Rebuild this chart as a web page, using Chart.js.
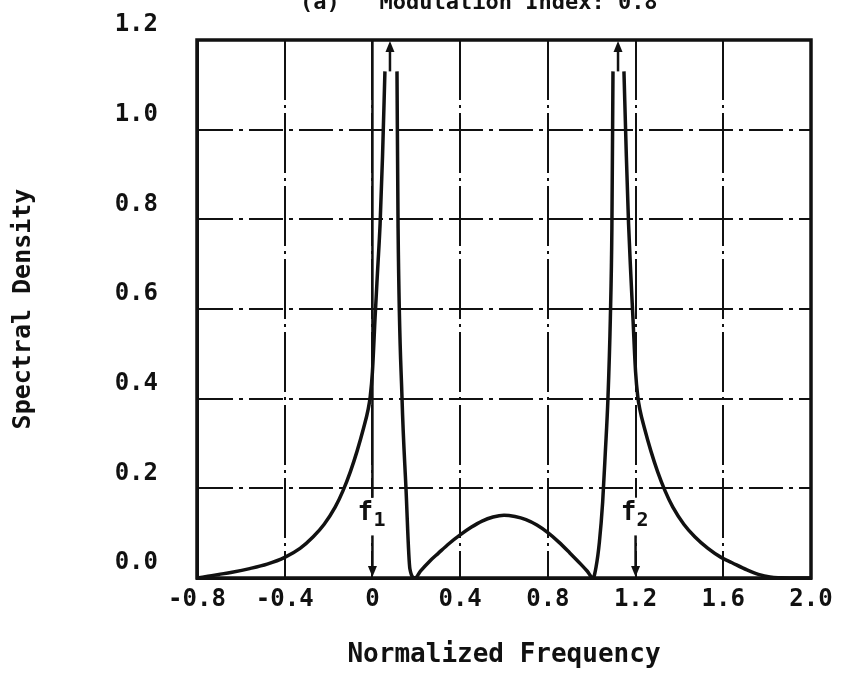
<!DOCTYPE html>
<html>
<head>
<meta charset="utf-8">
<script src="https://cdn.jsdelivr.net/npm/chart.js@4/dist/chart.umd.min.js"></script>
<style>
  html, body { margin: 0; padding: 0; background: #fff; }
  #wrap { width: 845px; height: 679px; }
</style>
</head>
<body>
<div id="wrap"><canvas id="c" width="845" height="679"></canvas></div>
<script>
// Spectral density versus normalized frequency (null = open top of a spectral-line peak)
const freq = [
  -0.80, -0.75, -0.70, -0.64, -0.56, -0.48, -0.40, -0.33, -0.27, -0.22, -0.17, -0.134, -0.10, -0.07, -0.04, -0.02, -0.01,
  0.0, 0.012, 0.024, 0.035, 0.046, 0.057,
  0.085,
  0.112, 0.117, 0.135, 0.153, 0.171, 0.194,
  0.22, 0.26, 0.30, 0.35, 0.40, 0.45, 0.50, 0.55, 0.60, 0.65, 0.70, 0.75, 0.80, 0.85, 0.90, 0.95, 0.98, 1.006,
  1.02, 1.035, 1.05, 1.062, 1.074, 1.085, 1.092, 1.097,
  1.12,
  1.147, 1.158, 1.168, 1.178, 1.188, 1.20, 1.21, 1.22, 1.24, 1.27, 1.30, 1.334, 1.37, 1.42, 1.47, 1.53, 1.59, 1.64, 1.708, 1.76, 1.813, 1.90, 2.00
];
const density = [
  0.000, 0.004, 0.008, 0.013, 0.021, 0.031, 0.046, 0.066, 0.092, 0.120, 0.158, 0.195, 0.238, 0.283, 0.335, 0.375, 0.405,
  0.460, 0.580, 0.690, 0.790, 0.940, 1.130,
  null,
  1.130, 0.780, 0.400, 0.200, 0.020, 0.000,
  0.016, 0.037, 0.055, 0.077, 0.096, 0.113, 0.127, 0.136, 0.140, 0.137, 0.130, 0.118, 0.101, 0.080, 0.056, 0.031, 0.015, 0.000,
  0.025, 0.080, 0.170, 0.280, 0.400, 0.580, 0.780, 1.130,
  null,
  1.130, 0.940, 0.790, 0.680, 0.580, 0.460, 0.405, 0.375, 0.335, 0.283, 0.238, 0.195, 0.158, 0.120, 0.092, 0.066, 0.046, 0.034, 0.018, 0.008, 0.002, 0.000, 0.000
];

// Axis tick labels
const xTickLabels = ['-0.8', '-0.4', '0', '0.4', '0.8', '1.2', '1.6', '2.0'];
const yTickLabels = ['0.0', '0.2', '0.4', '0.6', '0.8', '1.0', '1.2'];

// Discrete spectral lines (arrows rising off the top of the peaks)
const lineFreqs = [0.08, 1.12];
const lineTops = [1.13, 1.13];

// Tone markers f1, f2
const markerFreqs = [0, 1.2];
const markerSubs = ['1', '2'];
const markerLabelY = 0.13;
const markerArrowFrom = 0.095;

const titleText = '(a)   Modulation Index: 0.8';

const MONO = '"DejaVu Sans Mono", "Liberation Mono", monospace';
const INK = '#111';

function arrowHead(ctx, x, y, dir) {
  // dir = -1 points up, +1 points down; (x, y) is the tip
  ctx.beginPath();
  ctx.moveTo(x, y);
  ctx.lineTo(x - 4.5, y - dir * 11);
  ctx.lineTo(x + 4.5, y - dir * 11);
  ctx.closePath();
  ctx.fill();
}

const overlay = {
  id: 'overlay',
  afterDatasetsDraw(chart) {
    const { ctx, chartArea: a } = chart;
    const xs = chart.scales.x, ys = chart.scales.y;
    ctx.save();
    ctx.strokeStyle = INK;
    ctx.fillStyle = INK;
    ctx.lineCap = 'butt';

    // spectral line arrows
    lineFreqs.forEach((f, i) => {
      const px = xs.getPixelForValue(f);
      const y0 = ys.getPixelForValue(lineTops[i]);
      ctx.lineWidth = 2.5;
      ctx.beginPath();
      ctx.moveTo(px, y0);
      ctx.lineTo(px, a.top + 8);
      ctx.stroke();
      arrowHead(ctx, px, a.top + 1, -1);
    });

    // f1 / f2 markers
    markerFreqs.forEach((f, i) => {
      const px = xs.getPixelForValue(f);
      const ly = ys.getPixelForValue(markerLabelY);
      ctx.fillStyle = '#fff';
      ctx.fillRect(px - 17, ly - 22, 36, 40);
      ctx.fillStyle = INK;
      if (i === 0) {
        ctx.lineWidth = 2.5;
        ctx.beginPath();
        ctx.moveTo(px, a.top);
        ctx.lineTo(px, ly - 22);
        ctx.stroke();
      }
      ctx.textAlign = 'center';
      ctx.textBaseline = 'alphabetic';
      ctx.font = 'bold 26px ' + MONO;
      ctx.fillText('f', px - 7, ly);
      ctx.font = 'bold 20px ' + MONO;
      ctx.fillText(markerSubs[i], px + 7, ly + 6);
      const ay = ys.getPixelForValue(markerArrowFrom);
      const by = ys.getPixelForValue(0);
      ctx.lineWidth = 2.5;
      ctx.beginPath();
      ctx.moveTo(px, ay);
      ctx.lineTo(px, by - 8);
      ctx.stroke();
      arrowHead(ctx, px, by - 1, 1);
    });

    // heavy frame round the plot
    ctx.lineWidth = 3.5;
    ctx.strokeRect(a.left, a.top, a.right - a.left, a.bottom - a.top);

    // heading along the top edge
    ctx.font = 'bold 22px ' + MONO;
    ctx.textAlign = 'left';
    ctx.textBaseline = 'alphabetic';
    ctx.fillText(titleText, 300, 9);
    ctx.restore();
  }
};

new Chart(document.getElementById('c'), {
  type: 'line',
  data: {
    datasets: [{
      data: freq.map((f, i) => ({ x: f, y: density[i] })),
      borderColor: INK,
      borderWidth: 3.5,
      pointRadius: 0,
      fill: false,
      spanGaps: false,
      cubicInterpolationMode: 'monotone'
    }]
  },
  options: {
    responsive: false,
    animation: false,
    devicePixelRatio: 1,
    layout: { padding: { top: 40, right: 34, left: 0, bottom: 0 } },
    plugins: { legend: { display: false }, tooltip: { enabled: false }, title: { display: false } },
    scales: {
      x: {
        type: 'linear',
        min: -0.8, max: 2.0,
        afterFit: s => { s.height = 101; },
        ticks: {
          stepSize: 0.4,
          color: INK,
          font: { family: MONO, size: 24, weight: 'bold' },
          padding: 7,
          maxRotation: 0,
          autoSkip: false,
          callback: (v, i) => xTickLabels[i]
        },
        grid: { color: INK, lineWidth: 2, drawTicks: false },
        border: { display: true, color: INK, width: 3, dash: [60, 5, 3, 5] },
        title: {
          display: true,
          text: 'Normalized Frequency',
          color: INK,
          font: { family: MONO, size: 26, weight: 'bold' },
          padding: { top: 0, bottom: 8 }
        }
      },
      y: {
        type: 'linear',
        min: 0, max: 1.2,
        afterFit: s => { s.width = 197; s.paddingTop = 0; s.paddingBottom = 0; },
        ticks: {
          stepSize: 0.2,
          color: INK,
          font: { family: MONO, size: 24, weight: 'bold' },
          padding: 39,
          labelOffset: -15,
          callback: (v, i) => yTickLabels[i]
        },
        grid: { color: INK, lineWidth: 2, drawTicks: false },
        border: { display: true, color: INK, width: 3, dash: [34, 6, 4, 6] },
        title: {
          display: true,
          text: 'Spectral Density',
          color: INK,
          font: { family: MONO, size: 25, weight: 'bold' },
          padding: { top: 8, bottom: 0 }
        }
      }
    }
  },
  plugins: [overlay]
});
</script>
</body>
</html>
